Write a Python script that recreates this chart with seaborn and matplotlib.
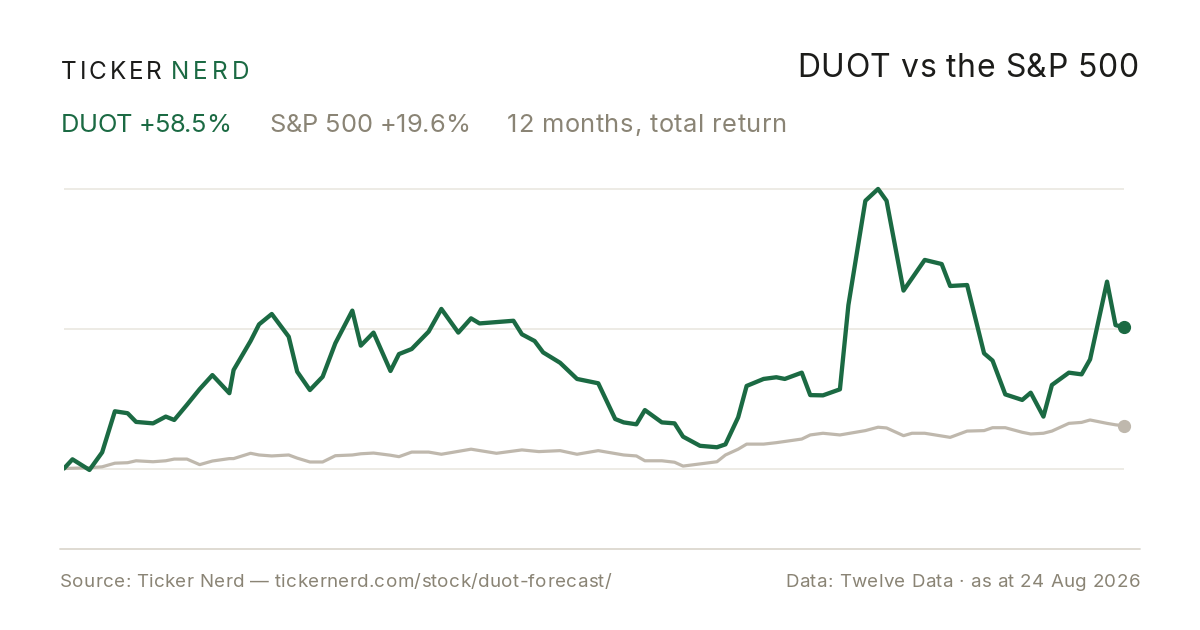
import matplotlib
matplotlib.use("Agg")
import matplotlib.pyplot as plt
import seaborn as sns
import pandas as pd

# trading-day index (0..250) and total return in % for each series
duot_day = [0, 2, 6, 9, 12, 15, 17, 21, 24, 26, 29, 32, 35, 39, 40, 44, 46, 49, 53, 55,
            58, 61, 64, 68, 70, 73, 77, 79, 82, 86, 89, 93, 96, 98, 106, 108, 111, 113, 117, 121,
            126, 130, 132, 135, 137, 141, 144, 146, 150, 154, 156, 159, 161, 165, 168, 170, 174, 176, 179, 183,
            185, 189, 192, 194, 198, 203, 207, 209, 213, 217, 219, 222, 226, 228, 231, 233, 237, 240, 242, 246,
            248, 250]
duot_ret = [0.0, 3.8, -0.6, 6.7, 23.7, 22.9, 19.3, 18.7, 21.5, 20.1, 26.4, 32.9, 38.7, 31.2, 40.8, 52.8, 59.7, 64.0, 54.6, 40.1,
            32.5, 38.0, 51.9, 65.4, 50.9, 56.3, 40.4, 47.4, 49.5, 56.7, 66.1, 56.3, 62.2, 60.1, 61.2, 55.6, 52.8, 48.1, 43.8, 37.1,
            35.3, 20.5, 19.1, 18.3, 24.2, 19.1, 18.7, 13.2, 9.4, 8.8, 10.0, 21.2, 34.2, 37.1, 37.8, 37.1, 39.7, 30.4, 30.3, 32.8,
            67.7, 110.9, 115.8, 110.9, 73.7, 86.4, 84.7, 75.6, 76.0, 47.7, 44.7, 30.7, 28.4, 31.4, 21.5, 34.6, 39.7, 39.0, 45.2, 77.4,
            59.4, 58.5]

spx_day = [0, 6, 9, 12, 15, 17, 21, 24, 26, 29, 32, 35, 39, 40, 44, 46, 49, 53, 55, 58,
           61, 64, 68, 70, 73, 77, 79, 82, 86, 89, 96, 102, 108, 112, 117, 121, 126, 132, 135, 137,
           141, 144, 146, 150, 154, 156, 159, 161, 165, 168, 174, 176, 179, 183, 189, 192, 194, 198, 200, 203,
           209, 213, 217, 219, 222, 226, 228, 231, 233, 237, 240, 242, 246, 248, 250]
spx_ret = [0.0, 0.3, 0.7, 2.2, 2.4, 3.2, 2.8, 3.2, 3.9, 3.9, 1.6, 3.1, 4.1, 4.1, 6.3, 5.6, 5.2, 5.6, 4.3, 2.7,
           2.7, 5.3, 5.6, 6.1, 6.4, 5.5, 4.9, 6.8, 6.8, 5.9, 8.0, 6.3, 7.7, 7.0, 7.4, 5.9, 7.4, 5.6, 5.2, 3.2,
           3.2, 2.6, 1.0, 1.9, 2.8, 5.6, 8.0, 10.1, 10.1, 10.7, 12.2, 13.9, 14.6, 13.9, 15.7, 17.1, 16.8, 13.6, 14.6, 14.6,
           12.9, 15.5, 15.7, 16.9, 16.9, 15.0, 14.3, 14.6, 15.5, 18.7, 19.1, 20.1, 18.7, 18.1, 17.7]

duot_label = "DUOT +58.5%"
spx_label = "S&P 500 +19.6%"
period_label = "12 months, total return"
title = "DUOT vs the S&P 500"
source = "Source: Ticker Nerd \u2014 tickernerd.com/stock/duot-forecast/"
data_note = "Data: Twelve Data \u00b7 as at 24 Aug 2026"

GREEN = "#1b6a43"
SAND = "#bfb8ad"
GREY_TXT = "#8a8475"
GRID = "#ece9e3"
INK = "#1c1c1a"

sns.set_theme(style="white")
plt.rcParams["font.family"] = ["Inter", "DejaVu Sans"]

W, H = 1200, 630
fig = plt.figure(figsize=(12, 6.3), dpi=100)
fig.patch.set_facecolor("white")


def fx(px):
    return px / W


def fy(py):
    return 1 - py / H


# plot area: x 64..1124 px, y 180..500 px
ax = fig.add_axes([fx(64), fy(500), fx(1124) - fx(64), (500 - 180) / H])
ax.set_facecolor("white")

duot = pd.DataFrame({"day": duot_day, "ret": duot_ret})
spx = pd.DataFrame({"day": spx_day, "ret": spx_ret})

peak = max(duot_ret)
for g in [0, peak / 2, peak]:
    ax.axhline(g, color=GRID, lw=1.3, zorder=0)

sns.lineplot(data=spx, x="day", y="ret", ax=ax, color=SAND, lw=2.3, zorder=2)
sns.lineplot(data=duot, x="day", y="ret", ax=ax, color=GREEN, lw=3.1, zorder=3)
for line in ax.get_lines():
    line.set_solid_joinstyle("round")
    line.set_solid_capstyle("round")

ax.plot(spx_day[-1], spx_ret[-1], "o", color=SAND, ms=8.5, zorder=4, clip_on=False)
ax.plot(duot_day[-1], duot_ret[-1], "o", color=GREEN, ms=8.5, zorder=5, clip_on=False)

ax.set_xlim(0, 250)
ax.set_ylim((468.5 - 500) / 2.414, (468.5 - 180) / 2.414)
ax.set_xticks([])
ax.set_yticks([])
ax.set_xlabel("")
ax.set_ylabel("")
sns.despine(ax=ax, left=True, bottom=True)

# footer rule
fig.add_artist(plt.Line2D([fx(60), fx(1140)], [fy(549), fy(549)], color="#dcd8cf", lw=1.3))

renderer = fig.canvas.get_renderer()


def measure(s, size):
    t = fig.text(0, 0, s, fontsize=size)
    w = t.get_window_extent(renderer).width
    t.remove()
    return w


def fit_text(x0, x1, y, s, color, size):
    # lay characters out so the string spans x0..x1 (letter-spacing)
    bar = measure("|", size)
    offs = [0.0] + [measure(s[:i] + "|", size) - bar for i in range(1, len(s))]
    track = (x1 - x0 - measure(s, size)) / max(len(s) - 1, 1)
    for i, ch in enumerate(s):
        if ch == " ":
            continue
        fig.text(fx(x0 + offs[i] + i * track), fy(y), ch, color=color,
                 fontsize=size, va="baseline", ha="left")


# logo
fit_text(61, 162, 79, "TICKER", INK, 17.5)
fit_text(171, 249, 79, "NERD", GREEN, 17.5)

fit_text(797, 1138, 77, title, INK, 23)

fit_text(61, 231, 132, duot_label, GREEN, 18.3)
fit_text(269, 470, 132, spx_label, GREY_TXT, 18.3)
fit_text(507, 787, 132, period_label, GREY_TXT, 18.3)

fit_text(60, 611, 587, source, GREY_TXT, 13.5)
fit_text(785, 1140, 587, data_note, GREY_TXT, 13.5)

fig.savefig("out.png", dpi=100, facecolor="white")
